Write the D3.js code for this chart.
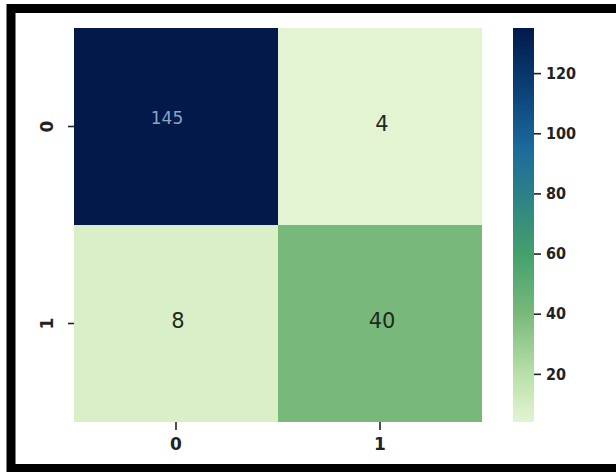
<!DOCTYPE html>
<html>
<head>
<meta charset="utf-8">
<script src="https://cdn.jsdelivr.net/npm/d3@7"></script>
<style>
    body { margin: 0; background: #fff; }
    svg { display: block; }
    text { font-family: "DejaVu Sans", sans-serif; }
</style>
</head>
<body>
<div id="chart"></div>
<script>
// Confusion matrix values
const rowLabels = ["0", "1"];
const colLabels = ["0", "1"];
const values = [
    [145, 4],
    [8, 40]
];
const cbTicks = [20, 40, 60, 80, 100, 120];
const cbDomain = [4, 135];

// colour stops
const stopValues = [4, 20, 40, 60, 80, 95, 110, 135];
const stopColors = ["#e3f4d3", "#b8e0a8", "#78b97b", "#44a06c", "#2b8088", "#1c6a9c", "#0e4a80", "#02194a"];

const W = 616, H = 472;
const svg = d3.select("#chart").append("svg")
    .attr("width", W)
    .attr("height", H);

svg.append("rect").attr("width", W).attr("height", H).attr("fill", "#fff");

const color = d3.scaleLinear()
    .domain(stopValues)
    .range(stopColors)
    .interpolate(d3.interpolateRgb)
    .clamp(true);

// Heatmap area
const hm = { left: 74, right: 482, top: 28, bottom: 422 };

const x = d3.scaleBand().domain(colLabels).range([hm.left, hm.right]);
const y = d3.scaleBand().domain(rowLabels).range([hm.top, hm.bottom]);

const cells = [];
values.forEach((row, i) => row.forEach((v, j) => cells.push({ r: rowLabels[i], c: colLabels[j], v })));

svg.append("g")
    .selectAll("rect")
    .data(cells)
    .join("rect")
    .attr("x", d => x(d.c))
    .attr("y", d => y(d.r))
    .attr("width", x.bandwidth())
    .attr("height", y.bandwidth())
    .attr("fill", d => color(d.v));

svg.append("g")
    .selectAll("text")
    .data(cells)
    .join("text")
    .attr("x", d => x(d.c) + x.bandwidth() / 2 + (d.v > 100 ? -9 : 2))
    .attr("y", d => y(d.r) + y.bandwidth() / 2 + (d.v > 100 ? -9 : -3))
    .attr("text-anchor", "middle")
    .attr("dominant-baseline", "central")
    .style("font-size", d => d.v > 100 ? "17px" : "21px")
    .style("fill", d => d.v > 100 ? "#8ea3c6" : "#1c2a1c")
    .text(d => d.v);

// Axes
const xAxis = svg.append("g")
    .attr("transform", `translate(0,${hm.bottom})`)
    .call(d3.axisBottom(x).tickSize(8).tickPadding(8));
xAxis.select(".domain").remove();
xAxis.selectAll("line").attr("stroke", "#222").attr("stroke-width", 1.6);
xAxis.selectAll("text")
    .style("font-size", "17px")
    .style("font-weight", "bold")
    .style("font-family", "DejaVu Sans")
    .attr("fill", "#222");

const yAxis = svg.append("g")
    .attr("transform", `translate(${hm.left},0)`)
    .call(d3.axisLeft(y).tickSize(6).tickPadding(10));
yAxis.select(".domain").remove();
yAxis.selectAll("line").attr("stroke", "#222").attr("stroke-width", 1.6);
yAxis.selectAll("text")
    .attr("transform", "rotate(-90)")
    .attr("x", 0)
    .attr("y", -27)
    .attr("dy", "0.35em")
    .style("text-anchor", "middle")
    .style("font-size", "17px")
    .style("font-weight", "bold")
    .style("font-family", "DejaVu Sans")
    .attr("fill", "#222");

// Colorbar
const cb = { left: 513, width: 21, top: 28, bottom: 422 };
const cbScale = d3.scaleLinear().domain(cbDomain).range([cb.bottom, cb.top]);

const grad = svg.append("defs").append("linearGradient")
    .attr("id", "cbgrad")
    .attr("x1", "0").attr("y1", "1").attr("x2", "0").attr("y2", "0");
grad.selectAll("stop")
    .data(stopValues)
    .join("stop")
    .attr("offset", d => (d - cbDomain[0]) / (cbDomain[1] - cbDomain[0]))
    .attr("stop-color", d => color(d));

svg.append("rect")
    .attr("x", cb.left)
    .attr("y", cb.top)
    .attr("width", cb.width)
    .attr("height", cb.bottom - cb.top)
    .attr("fill", "url(#cbgrad)");

const cAxis = svg.append("g")
    .attr("transform", `translate(${cb.left + cb.width},0)`)
    .call(d3.axisRight(cbScale).tickValues(cbTicks).tickSize(7).tickPadding(5));
cAxis.select(".domain").remove();
cAxis.selectAll("line").attr("stroke", "#222").attr("stroke-width", 1.6);
cAxis.selectAll("text")
    .style("font-size", "16px")
    .style("font-weight", "bold")
    .style("font-family", "DejaVu Sans Condensed, DejaVu Sans")
    .attr("fill", "#222");

// Black frame (right side is cut off in the original)
svg.append("rect")
    .attr("x", 11)
    .attr("y", 8.5)
    .attr("width", 640)
    .attr("height", 460)
    .attr("fill", "none")
    .attr("stroke", "#000")
    .attr("stroke-width", 9);
</script>
</body>
</html>
